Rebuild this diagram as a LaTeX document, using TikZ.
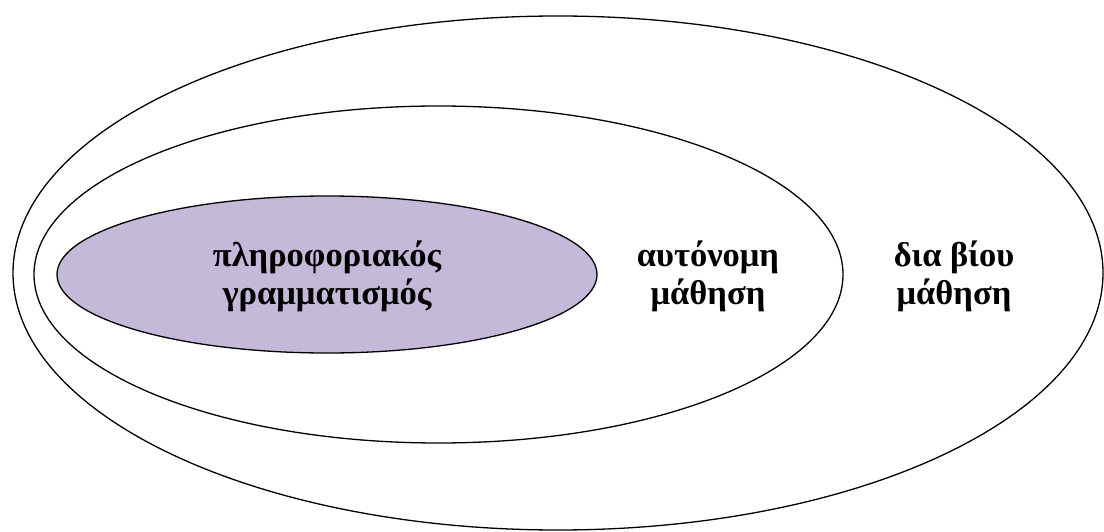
\documentclass[tikz,border=0pt]{standalone}
\usepackage{fontspec}
\setmainfont{Liberation Serif}
\usetikzlibrary{shapes.geometric}
\definecolor{lav}{RGB}{196,185,216}
\begin{document}
\begin{tikzpicture}[x=1pt,y=-1pt,
  ring/.style={draw=black,line width=1.3pt},
  lbl/.style={font=\fontsize{34.5}{38}\selectfont\bfseries,align=center,inner sep=0pt}]
\useasboundingbox (0,0) rectangle (1104,532);
\draw[ring] (558,273) ellipse [x radius=545, y radius=257];
\draw[ring] (438.5,274.5) ellipse [x radius=404.5, y radius=168.5];
\draw[ring,fill=lav] (327,274.5) ellipse [x radius=270, y radius=78.5];
\node[lbl] (info) at (327,276) {πληροφοριακός\\γραμματισμός};
\node[lbl] (auto) at (708,276) {αυτόνομη\\μάθηση};
\node[lbl] (life) at (954,276) {δια βίου\\μάθηση};
\end{tikzpicture}
\end{document}
